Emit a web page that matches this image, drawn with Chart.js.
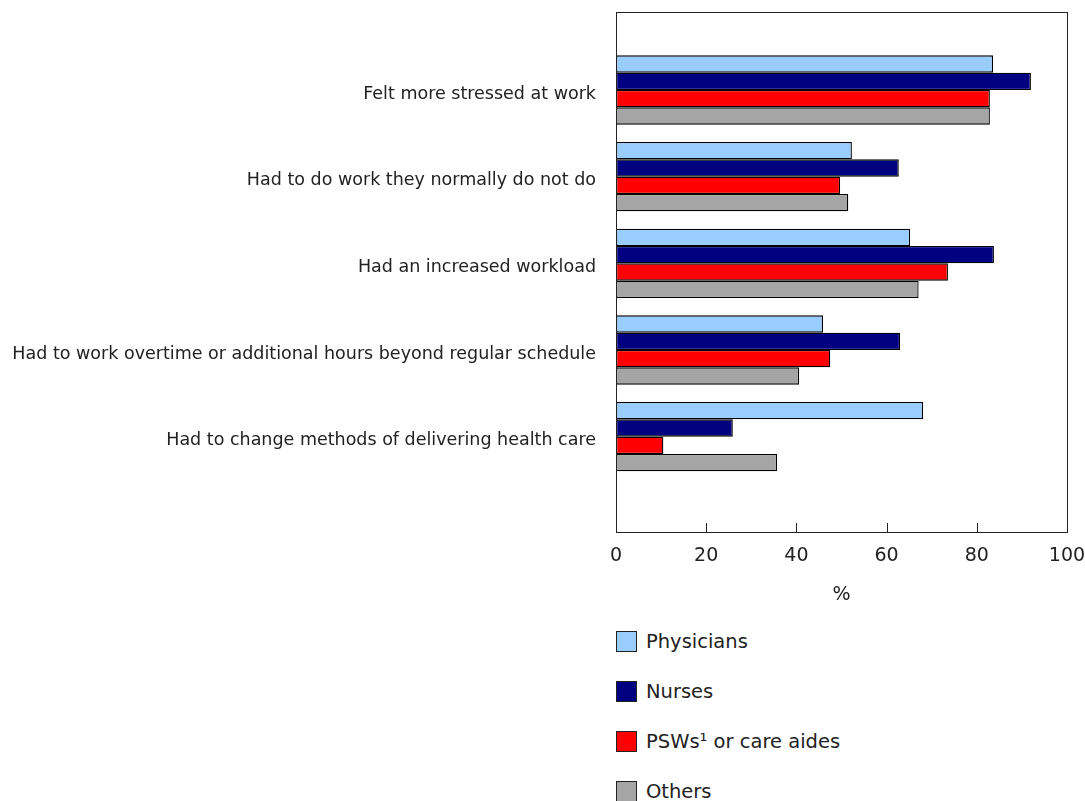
<!DOCTYPE html>
<html>
<head>
<meta charset="utf-8">
<script src="https://cdn.jsdelivr.net/npm/chart.js@4/dist/chart.umd.min.js"></script>
<style>
  body { margin: 0; background: #fff; font-family: Verdana, "DejaVu Sans", sans-serif; }
  #wrap { position: relative; width: 1085px; height: 801px; overflow: hidden; }
  #chart-box { position: absolute; left: 0; top: 0; width: 1085px; height: 620px; }
  #legend { position: absolute; left: 616px; top: 631px; }
  .leg-row { display: flex; align-items: center; height: 21px; margin-bottom: 29px; font-size: 19.5px; color: #222; }
  .leg-box { width: 19px; height: 19px; border: 1px solid #222; margin-right: 9px; }
</style>
</head>
<body>
<div id="wrap">
  <div id="chart-box"><canvas id="chart"></canvas></div>
  <div id="legend"></div>
</div>
<script>
const FONT = 'Verdana, "DejaVu Sans", sans-serif';

const categories = [
    "Felt more stressed at work",
    "Had to do work they normally do not do",
    "Had an increased workload",
    "Had to work overtime or additional hours beyond regular schedule",
    "Had to change methods of delivering health care"
];

const physicians = [83.6, 52.3, 65.2, 45.9, 68.1];
const nurses     = [92.0, 62.7, 83.8, 63.0, 25.9];
const psws       = [82.9, 49.7, 73.6, 47.5, 10.5];
const others     = [82.9, 51.5, 67.1, 40.6, 35.7];

const seriesNames  = ["Physicians", "Nurses", "PSWs\u00b9 or care aides", "Others"];
const seriesColors = ["#99ccff", "#000080", "#ff0000", "#a5a5a5"];
const seriesData   = [physicians, nurses, psws, others];

const xTicks = [0, 20, 40, 60, 80, 100];

// box round the plot area + short ticks pointing inward on the value axis
const frame = {
    id: "frame",
    afterDatasetsDraw(chart) {
        const { ctx, chartArea: a, scales } = chart;
        ctx.save();
        ctx.strokeStyle = "#222";
        ctx.lineWidth = 1;
        ctx.beginPath();
        scales.x.ticks.forEach(t => {
            const x = Math.round(scales.x.getPixelForValue(t.value)) + 0.5;
            ctx.moveTo(x, a.bottom);
            ctx.lineTo(x, a.bottom - 9);
        });
        ctx.stroke();
        ctx.strokeRect(Math.round(a.left) + 0.5, Math.round(a.top) + 0.5,
                       Math.round(a.right - a.left), Math.round(a.bottom - a.top));
        ctx.restore();
    }
};

new Chart(document.getElementById("chart"), {
    type: "bar",
    data: {
        labels: categories.map((c, i) => i),
        datasets: seriesData.map((d, i) => ({
            label: seriesNames[i],
            data: d,
            backgroundColor: seriesColors[i],
            borderColor: "#000",
            borderWidth: 1.3,
            borderSkipped: false,
            categoryPercentage: 0.8,
            barPercentage: 1.0,
        }))
    },
    options: {
        indexAxis: "y",
        responsive: true, maintainAspectRatio: false,
        animation: false,
        layout: { padding: { top: 12, right: 18, left: 0, bottom: 0 } },
        plugins: { legend: { display: false }, tooltip: { enabled: false } },
        scales: {
            y: {
                type: "linear",
                reverse: true,
                offset: false,
                min: -0.9, max: 5.1,
                afterBuildTicks: ax => { ax.ticks = categories.map((c, i) => ({ value: i })); },
                afterFit: ax => { ax.width = 616; ax.paddingTop = 0; ax.paddingBottom = 0; },
                grid: { display: false, drawTicks: false, offset: false },
                border: { display: false },
                ticks: {
                    color: "#222",
                    padding: 20,
                    labelOffset: 4,
                    autoSkip: false,
                    font: { family: FONT, size: 17.5 },
                    callback: v => categories[v] ?? ""
                }
            },
            x: {
                min: 0, max: 100,
                afterBuildTicks: ax => { ax.ticks = xTicks.map(v => ({ value: v })); },
                afterFit: ax => { ax.height = 88; ax.paddingLeft = 0; ax.paddingRight = 0; },
                grid: { display: false, drawTicks: false },
                border: { display: false },
                ticks: {
                    color: "#222",
                    padding: 13,
                    maxRotation: 0,
                    font: { family: FONT, size: 19 }
                },
                title: {
                    display: true, text: "%",
                    color: "#222",
                    padding: { top: 0, bottom: 14 },
                    font: { family: FONT, size: 19 }
                }
            }
        }
    },
    plugins: [frame]
});

// legend as a plain vertical list under the chart
document.getElementById("legend").innerHTML = seriesNames.map((n, i) => `
    <div class="leg-row"><span class="leg-box" style="background:${seriesColors[i]}"></span>${n}</div>`).join("");
</script>
</body>
</html>
